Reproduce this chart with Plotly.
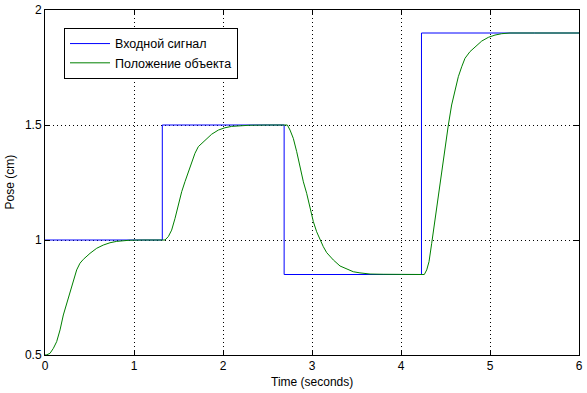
import plotly.graph_objects as go

# Input step signal (Входной сигнал)
input_t = [0, 1.318, 1.318, 2.687, 2.687, 4.23, 4.23, 6.0]
input_v = [1.0, 1.0, 1.5, 1.5, 0.85, 0.85, 1.9, 1.9]

# Object position (Положение объекта)
pos_t = [0.0, 0.02, 0.056, 0.094, 0.131, 0.169, 0.206, 0.243, 0.281, 0.318, 0.356,
         0.393, 0.431, 0.506, 0.581, 0.655, 0.730, 0.805, 0.861, 0.95, 1.1, 1.32,
         1.348, 1.386, 1.423, 1.461, 1.498, 1.536, 1.573, 1.611, 1.648, 1.685,
         1.723, 1.798, 1.873, 1.948, 2.022, 2.097, 2.172, 2.3, 2.5, 2.723,
         2.753, 2.790, 2.828, 2.865, 2.903, 2.940, 2.978, 3.015, 3.052, 3.090,
         3.127, 3.165, 3.240, 3.315, 3.390, 3.464, 3.539, 3.652, 3.8, 4.0, 4.262,
         4.289, 4.315, 4.345, 4.363, 4.390, 4.419, 4.449, 4.49, 4.532, 4.569,
         4.607, 4.644, 4.682, 4.719, 4.775, 4.831, 4.907, 4.981, 5.056, 5.131,
         5.225, 5.5, 6.0]
pos_v = [0.5, 0.501, 0.507, 0.529, 0.558, 0.609, 0.674, 0.725, 0.775, 0.826, 0.870,
         0.899, 0.916, 0.942, 0.964, 0.978, 0.988, 0.994, 0.997, 0.999, 1.0, 1.0,
         1.0, 1.015, 1.043, 1.094, 1.152, 1.210, 1.254, 1.297, 1.341, 1.377,
         1.406, 1.435, 1.460, 1.478, 1.488, 1.494, 1.497, 1.499, 1.5, 1.5,
         1.478, 1.442, 1.384, 1.319, 1.253, 1.203, 1.138, 1.080, 1.036, 1.0,
         0.971, 0.945, 0.913, 0.887, 0.873, 0.862, 0.857, 0.852, 0.851, 0.85, 0.85,
         0.870, 0.906, 0.986, 1.036, 1.116, 1.203, 1.283, 1.39, 1.5, 1.587,
         1.652, 1.710, 1.753, 1.790, 1.819, 1.840, 1.865, 1.881, 1.891, 1.897,
         1.900, 1.9, 1.9]

x_ticks = [0, 1, 2, 3, 4, 5, 6]
y_ticks = [0.5, 1, 1.5, 2]
y_tick_text = ["0.5", "1", "1.5", "2"]
x_title = "Time (seconds)"
y_title = "Pose (cm)"

FONT = "Arial, Liberation Sans, sans-serif"

fig = go.Figure()
fig.add_trace(go.Scatter(x=input_t, y=input_v, mode="lines", name="Входной сигнал",
                         line=dict(color="#0000FF", width=1)))
fig.add_trace(go.Scatter(x=pos_t, y=pos_v, mode="lines", name="Положение объекта",
                         line=dict(color="#008000", width=1)))

axis_common = dict(
    showline=True, linecolor="black", linewidth=1, mirror="ticks",
    ticks="inside", ticklen=5, tickcolor="black",
    showgrid=True, gridcolor="black", gridwidth=1, griddash="1px,3px",
    zeroline=False, automargin=False,
    tickfont=dict(family=FONT, size=12, color="black"),
)

fig.update_xaxes(range=[0, 6], tickvals=x_ticks, **axis_common)
fig.update_yaxes(range=[0.5, 2], tickvals=y_ticks, ticktext=y_tick_text, **axis_common)

fig.add_annotation(text=x_title, xref="paper", yref="paper", x=0.5, y=-0.078,
                   xanchor="center", yanchor="middle", showarrow=False,
                   font=dict(family=FONT, size=12, color="black"))
fig.add_annotation(text=y_title, xref="paper", yref="paper", x=-0.0674, y=0.5,
                   xanchor="center", yanchor="middle", showarrow=False, textangle=-90,
                   font=dict(family=FONT, size=12, color="black"))

fig.update_layout(
    width=587, height=393,
    margin=dict(l=45, r=8, t=10, b=38),
    paper_bgcolor="white", plot_bgcolor="white",
    font=dict(family=FONT, size=12, color="black"),
    showlegend=True,
    legend=dict(x=0.0356, y=0.948, xanchor="left", yanchor="top",
                bgcolor="white", bordercolor="black", borderwidth=1,
                font=dict(family=FONT, size=12.5, color="black"),
                itemwidth=40, tracegroupgap=0),
)

fig.write_html("out.html", config={"displayModeBar": False},
               post_script="document.body.style.margin='0';document.body.style.overflow='hidden';")
